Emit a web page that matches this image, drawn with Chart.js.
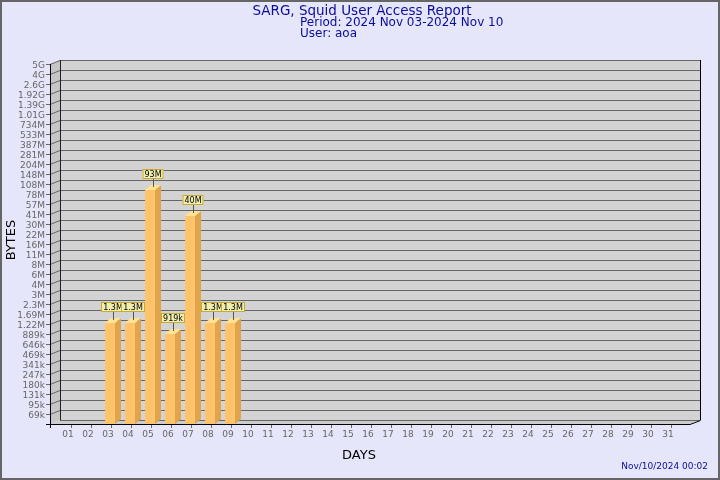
<!DOCTYPE html>
<html>
<head>
<meta charset="utf-8">
<script src="https://cdn.jsdelivr.net/npm/chart.js@4.4.1/dist/chart.umd.min.js"></script>
<style>
  html, body { margin: 0; padding: 0; background: #e6e6fa; }
  canvas { display: block; }
</style>
</head>
<body>
<canvas id="chart" width="720" height="480"></canvas>
<script>
const DAYS = [
  '01', '02', '03', '04', '05', '06', '07', '08', '09', '10', '11', '12', '13', '14', '15', '16',
  '17', '18', '19', '20', '21', '22', '23', '24', '25', '26', '27', '28', '29', '30', '31',
];
const BYTES = [
  null, null, 1.3e6, 1.3e6, 93e6, 919e3, 40e6, 1.3e6, 1.3e6, null, null, null, null, null, null, null,
  null, null, null, null, null, null, null, null, null, null, null, null, null, null, null,
];
const Y_TICKS = [
  '69k', '95k', '131k', '180k', '247k', '341k', '469k', '646k', '889k', '1.22M', '1.69M', '2.3M',
  '3M', '4M', '6M', '8M', '11M', '16M', '22M', '30M', '41M', '57M', '78M', '108M', '148M', '204M',
  '281M', '387M', '533M', '734M', '1.01G', '1.39G', '1.92G', '2.6G', '4G', '5G',
];
const Y_LOW = 69e3;
const Y_HIGH = 5e9;
const TITLE = ['SARG, Squid User Access Report', 'Period: 2024 Nov 03-2024 Nov 10', 'User: aoa'];
const STAMP = 'Nov/10/2024 00:02';

// geometric step between the evenly spaced y labels
const STEP = Math.pow(Y_HIGH / Y_LOW, 1 / (Y_TICKS.length - 1));

const WALL_DX = 10, WALL_DY = 4;
const BAR_DX = 6, BAR_DY = 5, BAR_W = 10;
const NAVY = '#0c0c9c';
const GRID = '#666';
const FONT = '"DejaVu Sans", sans-serif';

function fmtBytes(v) {
  if (v >= 1e9) return +(v / 1e9).toPrecision(2) + 'G';
  if (v >= 1e6) return +(v / 1e6).toPrecision(2) + 'M';
  return Math.round(v / 1e3) + 'k';
}

function poly(ctx, pts, fill) {
  ctx.beginPath();
  ctx.moveTo(pts[0][0], pts[0][1]);
  for (let i = 1; i < pts.length; i++) ctx.lineTo(pts[i][0], pts[i][1]);
  ctx.closePath();
  ctx.fillStyle = fill;
  ctx.fill();
}

function line(ctx, x1, y1, x2, y2, color) {
  ctx.beginPath();
  ctx.moveTo(x1, y1);
  ctx.lineTo(x2, y2);
  ctx.strokeStyle = color;
  ctx.lineWidth = 1;
  ctx.stroke();
}

const sarg3d = {
  id: 'sarg3d',
  beforeDraw(chart) {
    const { ctx, chartArea: a, scales } = chart;
    const L = a.left - 10, R = a.right + 10, T = a.top, B = a.bottom;
    ctx.save();
    ctx.fillStyle = '#e6e6fa';
    ctx.fillRect(0, 0, chart.width, chart.height);
    ctx.strokeStyle = '#666';
    ctx.lineWidth = 2;
    ctx.strokeRect(1, 1, chart.width - 2, chart.height - 2);

    // walls
    poly(ctx, [[L + WALL_DX, T - WALL_DY], [R + WALL_DX, T - WALL_DY], [R + WALL_DX, B - WALL_DY], [L + WALL_DX, B - WALL_DY]], '#d3d3d3');
    poly(ctx, [[L, T], [L + WALL_DX, T - WALL_DY], [L + WALL_DX, B - WALL_DY], [L, B]], '#c6c6c6');
    poly(ctx, [[L, B], [L + WALL_DX, B - WALL_DY], [R + WALL_DX, B - WALL_DY], [R, B]], '#cccccc');

    // y grid + labels
    ctx.font = '9px ' + FONT;
    ctx.textAlign = 'right';
    ctx.textBaseline = 'middle';
    ctx.fillStyle = '#666';
    Y_TICKS.forEach((lab, k) => {
      const y = Math.round(scales.y.getPixelForValue(Y_LOW * Math.pow(STEP, k))) + 0.5;
      line(ctx, L - 4, y, L, y, GRID);
      line(ctx, L, y, L + WALL_DX, y - WALL_DY, GRID);
      line(ctx, L + WALL_DX, y - WALL_DY, R + WALL_DX, y - WALL_DY, GRID);
      ctx.fillText(lab, L - 5, y + 1.5);
    });
    line(ctx, L + WALL_DX, B - WALL_DY + 0.5, R + WALL_DX, B - WALL_DY + 0.5, GRID);

    // edges
    line(ctx, L + 0.5, T, L + 0.5, B + 4, '#000');
    line(ctx, L + WALL_DX + 0.5, T - WALL_DY, L + WALL_DX + 0.5, B - WALL_DY, '#222');
    line(ctx, R + WALL_DX + 0.5, T - WALL_DY, R + WALL_DX + 0.5, B - WALL_DY, '#000');
    line(ctx, L - 4, B + 0.5, R, B + 0.5, '#000');
    line(ctx, R, B + 0.5, R + WALL_DX + 0.5, B - WALL_DY + 0.5, '#000');

    // x ticks + labels
    ctx.textAlign = 'center';
    DAYS.forEach((d, i) => {
      const x = Math.round(scales.x.getPixelForValue(i));
      line(ctx, x + 1.5, B + 1, x + 1.5, B + 4, '#666');
      ctx.fillText(d, x - 2, B + 10.5);
    });

    // axis titles
    ctx.fillStyle = '#000';
    ctx.font = '13px ' + FONT;
    ctx.fillText('DAYS', 359, 456);
    ctx.save();
    ctx.translate(12, 240);
    ctx.rotate(-Math.PI / 2);
    ctx.fillText('BYTES', 0, 0);
    ctx.restore();

    // title
    ctx.fillStyle = NAVY;
    ctx.font = '13.5px ' + FONT;
    ctx.fillText(TITLE[0], 362, 11.5);
    ctx.font = '12px ' + FONT;
    ctx.textAlign = 'left';
    ctx.fillText(TITLE[1], 300, 23);
    ctx.fillText(TITLE[2], 300, 34);
    ctx.font = '9px ' + FONT;
    ctx.textAlign = 'right';
    ctx.fillText(STAMP, 708, 466.5);
    ctx.restore();
  },
  afterDatasetsDraw(chart) {
    const { ctx, chartArea: a, scales } = chart;
    const B = a.bottom;
    ctx.save();
    BYTES.forEach((v, i) => {
      if (v == null) return;
      const x = scales.x.getPixelForValue(i);
      const y = Math.round(scales.y.getPixelForValue(v)) + 1;
      const l = x - BAR_W / 2, r = x + BAR_W / 2;
      poly(ctx, [[r, y], [r + BAR_DX, y - BAR_DY], [r + BAR_DX, B - BAR_DY], [r, B]], '#e0a44c');
      poly(ctx, [[l, y], [r, y], [r + BAR_DX, y - BAR_DY], [l + BAR_DX, y - BAR_DY]], '#ffe393');
      ctx.fillStyle = '#ffc46b';
      ctx.fillRect(l, y, BAR_W, B - y);

      // value label
      const txt = fmtBytes(v);
      ctx.font = '8px ' + FONT;
      const w = Math.round(ctx.measureText(txt).width) + 4;
      const cx = Math.round(x + 3);
      const bottom = y - 11;
      line(ctx, cx + 0.5, bottom, cx + 0.5, y - 3, '#555');
      ctx.fillStyle = '#f0eeae';
      ctx.fillRect(cx - w / 2, bottom - 10, w, 10);
      ctx.strokeStyle = '#c8aa32';
      ctx.lineWidth = 1;
      ctx.strokeRect(cx - w / 2 + 0.5, bottom - 9.5, w - 1, 9);
      ctx.fillStyle = '#000';
      ctx.textAlign = 'center';
      ctx.textBaseline = 'middle';
      ctx.fillText(txt, cx, bottom - 4.5);
    });
    ctx.restore();
  },
};

new Chart(document.getElementById('chart'), {
  type: 'bar',
  data: {
    labels: DAYS,
    datasets: [{ data: BYTES, backgroundColor: 'rgba(0,0,0,0)', borderWidth: 0, barThickness: BAR_W }],
  },
  options: {
    responsive: false,
    animation: false,
    layout: { padding: { left: 60, right: 40, top: 64, bottom: 56 } },
    plugins: { legend: { display: false }, tooltip: { enabled: false }, title: { display: false } },
    scales: {
      x: { type: 'category', display: false, offset: true },
      y: { type: 'logarithmic', display: false, bounds: 'data', min: Y_LOW / STEP, max: Y_HIGH },
    },
  },
  plugins: [sarg3d],
});
</script>
</body>
</html>
